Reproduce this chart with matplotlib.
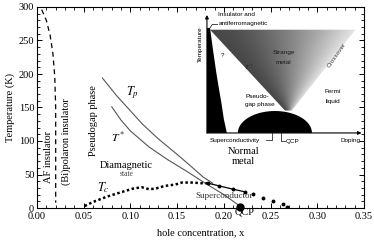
import numpy as np
import matplotlib.pyplot as plt
from matplotlib.patches import Polygon
from matplotlib.ticker import MultipleLocator

plt.rcParams['font.family'] = ['Liberation Serif', 'DejaVu Serif']
plt.rcParams['mathtext.fontset'] = 'stix'

# ---- main diagram data ----
af_x = [0.005, 0.010, 0.014, 0.017, 0.019, 0.020, 0.020]
af_t = [296, 280, 258, 231, 196, 150, 8]

tp_x = [0.070, 0.085, 0.100, 0.113, 0.130, 0.150, 0.165, 0.178, 0.188]
tp_t = [194, 168, 145, 125, 103, 80, 62, 46, 37]

ts_x = [0.080, 0.090, 0.100, 0.120, 0.140, 0.160, 0.180, 0.200, 0.216]
ts_t = [151, 131, 115, 91, 72, 55, 37, 20, 4]

tc_x = [0.051, 0.060, 0.075, 0.091, 0.103, 0.112, 0.120, 0.127, 0.137, 0.148, 0.155, 0.167, 0.175, 0.183]
tc_t = [3, 9, 17, 24, 29, 31, 28, 29, 33, 35, 38, 38, 37, 37]

od_x = [0.183, 0.195, 0.210, 0.223]
od_t = [37, 33, 28, 24]

sc_x = [0.231, 0.242, 0.253, 0.263, 0.268]
sc_t = [21, 15, 10, 6, 2]

qcp_x = 0.217

# ---- inset (schematic, doping u / temperature v in 0..1) ----
afm_u = [0.0, 0.0, 0.02, 0.04, 0.06, 0.075, 0.095, 0.11, 0.13]
afm_v = [0.0, 0.89, 0.89, 0.70, 0.52, 0.40, 0.25, 0.12, 0.0]

fan_u = [0.02, 0.97, 0.555, 0.51]
fan_v = [0.875, 0.875, 0.19, 0.19]

dome_c, dome_w, dome_h = 0.444, 0.242, 0.186

fig = plt.figure(figsize=(3.74, 2.43), dpi=100)
ax = fig.add_axes([37/374, 35/243, 327/374, 201/243])

ax.plot(af_x, af_t, color='k', lw=0.9, ls=(0, (4, 3)))
ax.plot(tp_x, tp_t, color='#555555', lw=0.8)
ax.plot(ts_x, ts_t, color='#555555', lw=0.8)
ax.plot(tc_x, tc_t, color='k', lw=1.8, ls=(0, (1, 1)))
ax.plot(od_x, od_t, color='k', lw=0.9, marker='o', ms=1.8)
ax.plot(sc_x, sc_t, 'o', color='k', ms=1.8, lw=0)
ax.plot([qcp_x], [2], 'o', color='k', ms=5, clip_on=False)

ax.set_xlim(0, 0.35)
ax.set_ylim(0, 300)
ax.xaxis.set_major_locator(MultipleLocator(0.05))
ax.xaxis.set_minor_locator(MultipleLocator(0.01))
ax.yaxis.set_major_locator(MultipleLocator(50))
ax.yaxis.set_minor_locator(MultipleLocator(10))
ax.xaxis.set_major_formatter(lambda v, p: f'{v:.2f}')
ax.tick_params(which='both', direction='in', top=True, right=True, labelsize=7.5, pad=2)
ax.tick_params(axis='x', which='major', pad=3)
ax.tick_params(which='major', length=3.5, width=0.7)
ax.tick_params(which='minor', length=2, width=0.6)
for s in ax.spines.values():
    s.set_linewidth(0.8)
ax.set_xlabel('hole concentration, x', fontsize=7.5, labelpad=5)
ax.set_ylabel('Temperature (K)', fontsize=7.5, labelpad=3)

ax.text(0.012, 76, 'AF insulator', rotation=90, fontsize=7.5, ha='center', va='center')
ax.text(0.031, 99, '(Bi)polaron insulator', rotation=90, fontsize=7.5, ha='center', va='center')
ax.text(0.061, 130, 'Pseudogap phase', rotation=90, fontsize=7.5, ha='center', va='center')
ax.text(0.102, 172, r'$T_p$', fontsize=9, ha='center', va='center')
ax.text(0.087, 104, r'$T^*$', fontsize=8.5, ha='center', va='center')
ax.text(0.096, 64, 'Diamagnetic', fontsize=7.5, ha='center', va='center')
ax.text(0.096, 51, 'state', fontsize=5.5, ha='center', va='center', color='#444444')
ax.text(0.071, 31, r'$T_c$', fontsize=9, ha='center', va='center')
ax.text(0.221, 84, 'Normal', fontsize=7.5, ha='center', va='center')
ax.text(0.221, 69, 'metal', fontsize=7.5, ha='center', va='center')
ax.text(0.200, 18, 'Superconductor', fontsize=6.5, ha='center', va='center', color='#333333')
ax.text(0.222, -6, 'QCP', fontsize=7.5, ha='center', va='center', clip_on=False)

# ---- inset ----
ai = fig.add_axes([197/374, 96/243, 165/374, 139/243])
ai.set_xlim(-0.065, 1.013)
ai.set_ylim(-0.119, 1.059)
ai.axis('off')

fan = Polygon(list(zip(fan_u, fan_v)), closed=True, fc='none', ec='none')
ai.add_patch(fan)
uu, vv = np.meshgrid(np.linspace(0, 1, 300), np.linspace(0.19, 0.88, 150))
left = 0.51 + (vv - 0.19) / (0.875 - 0.19) * (0.02 - 0.51)
right = 0.555 + (vv - 0.19) / (0.875 - 0.19) * (0.97 - 0.555)
frac = np.clip((uu - left) / (right - left), 0, 1)
shade = 0.28 + 0.62 * frac ** 1.6
im = ai.imshow(shade, extent=(0, 1, 0.19, 0.88), origin='lower', cmap='gray',
               vmin=0, vmax=1, aspect='auto', interpolation='bilinear')
im.set_clip_path(fan)

ai.fill(afm_u, afm_v, color='k', lw=0)
th = np.linspace(0, np.pi, 80)
ai.fill(dome_c + dome_w * np.cos(th), dome_h * np.sin(th), color='k', lw=0)

ai.annotate('', xy=(0, 1.0), xytext=(0, 0),
            arrowprops=dict(arrowstyle='-|>', lw=0.8, color='k', mutation_scale=5, shrinkA=0, shrinkB=0))
ai.annotate('', xy=(1.01, 0), xytext=(0, 0),
            arrowprops=dict(arrowstyle='-|>', lw=0.8, color='k', mutation_scale=5, shrinkA=0, shrinkB=0))

sans = ['Liberation Sans', 'DejaVu Sans']
fs = 4.6
ai.text(0.075, 1.0, 'Insulator and', family=sans, fontsize=fs, va='center')
ai.text(0.075, 0.93, 'antiferromagnetic', family=sans, fontsize=fs, va='center')
ai.plot([0.07, 0.035, 0.02], [0.92, 0.92, 0.89], color='k', lw=0.5)
ai.text(0.105, 0.66, '?', family=sans, fontsize=fs, ha='center', va='center')
ai.text(0.27, 0.56, r'$T^*$', fontsize=5, ha='center', va='center', color='#222222')
ai.text(0.50, 0.68, 'Strange', family=sans, fontsize=fs, ha='center', va='center', color='#1a1a1a')
ai.text(0.50, 0.60, 'metal', family=sans, fontsize=fs, ha='center', va='center', color='#1a1a1a')
ai.text(0.845, 0.66, 'Crossover', family=sans, fontsize=fs, ha='center', va='center',
        rotation=55, color='#333333')
ai.text(0.82, 0.35, 'Fermi', family=sans, fontsize=fs, ha='center', va='center')
ai.text(0.82, 0.27, 'liquid', family=sans, fontsize=fs, ha='center', va='center')
ai.text(0.25, 0.31, 'Pseudo-', family=sans, fontsize=fs, va='center')
ai.text(0.25, 0.245, 'gap phase', family=sans, fontsize=fs, va='center')
ai.text(-0.046, 0.75, 'Temperature', family=sans, fontsize=fs, rotation=90, ha='center', va='center')
ai.text(0.185, -0.06, 'Superconductivity', family=sans, fontsize=fs, ha='center', va='center')
ai.plot([0.385, 0.425, 0.425], [-0.06, -0.06, 0.0], color='k', lw=0.5, clip_on=False)
ai.plot([0.484, 0.484, 0.51], [0.0, -0.07, -0.07], color='k', lw=0.5, clip_on=False)
ai.text(0.56, -0.075, 'QCP', family=sans, fontsize=fs, ha='center', va='center')
ai.text(0.94, -0.06, 'Doping', family=sans, fontsize=fs, ha='center', va='center')

fig.savefig('out.png', dpi=100)
